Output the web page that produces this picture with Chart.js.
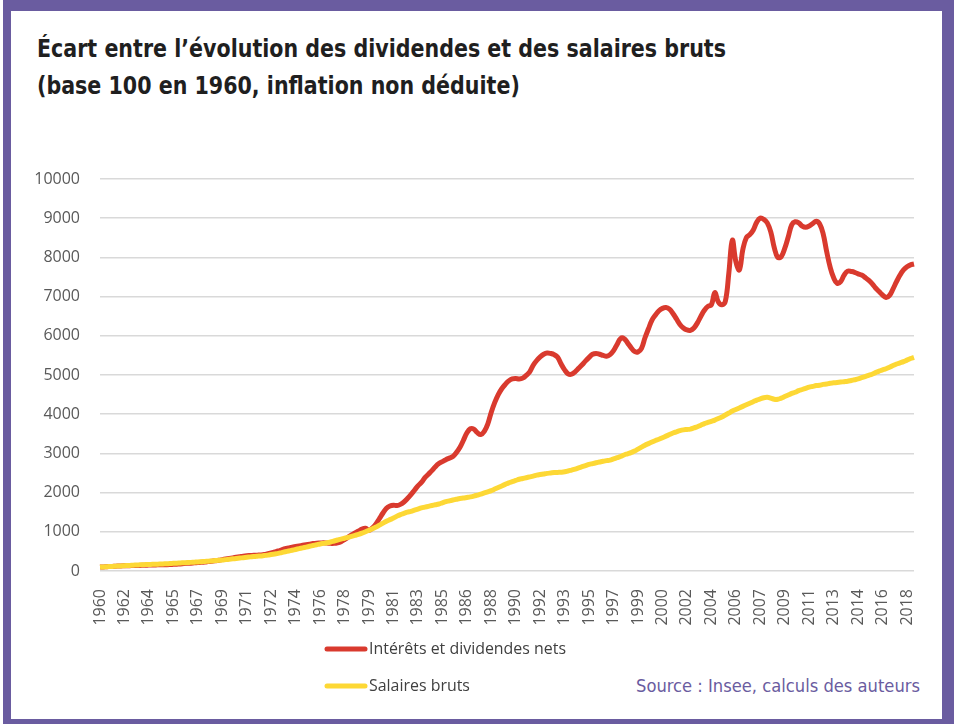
<!DOCTYPE html>
<html lang="fr">
<head>
<meta charset="utf-8">
<script src="https://cdn.jsdelivr.net/npm/chart.js@4.4.1/dist/chart.umd.min.js"></script>
<style>
  html, body { margin: 0; padding: 0; background: #fff; }
  body { width: 954px; height: 724px; position: relative; overflow: hidden; }
  #frame {
    position: absolute; left: 3px; top: 0; width: 951px; height: 724px; box-sizing: border-box;
    border-style: solid; border-color: #6a5ca0;
    border-width: 11px 12px 5px 8px;
  }
  #title {
    position: absolute; left: 37px; top: 31px; transform-origin: left top;
    font-family: "DejaVu Sans Condensed", "Liberation Sans Narrow", Roboto, sans-serif;
    font-weight: bold; font-size: 24px; line-height: 37px; color: #1f1f1f; white-space: nowrap;
  }
  #title div { display: inline-block; }
  #source {
    position: absolute; left: 636px; top: 675px; transform-origin: left top;
    font-family: "DejaVu Sans Condensed", "Liberation Sans Narrow", Roboto, sans-serif;
    font-size: 17px; line-height: 22px; color: #6a5ca0; white-space: nowrap;
  }
  canvas { position: absolute; left: 0; top: 0; }
</style>
</head>
<body>
<div id="frame"></div>
<div id="title"><div id="t1">Écart entre l’évolution des dividendes et des salaires bruts</div><br><div id="t2">(base 100 en 1960, inflation non déduite)</div></div>
<div id="source">Source : Insee, calculs des auteurs</div>
<canvas id="ecartChart" width="954" height="724"></canvas>
<script>
// trimestres de 1960 T3 à 2018 T4, une étiquette tous les 7 trimestres
const firstYear = 1960;
const firstQuarter = 3;
const quarterCount = 234;
const tickEvery = 7;

const quarters = [];
for (let i = 0; i < quarterCount; i++) {
  const q = firstQuarter - 1 + i;
  quarters.push((firstYear + Math.floor(q / 4)) + ' T' + (q % 4 + 1));
}

const seriesNames = ['Intérêts et dividendes nets', 'Salaires bruts'];

const dividendes = [
  100, 105, 110, 115, 120, 125, 130, 132, 135, 138,
  140, 142, 145, 148, 150, 152, 155, 158, 160, 162,
  165, 170, 175, 180, 188, 195, 200, 208, 215, 222,
  230, 240, 250, 262, 275, 290, 305, 320, 335, 350,
  365, 380, 390, 395, 400, 405, 410, 420, 440, 460,
  485, 510, 540, 570, 590, 610, 625, 640, 655, 670,
  685, 700, 710, 715, 720, 712, 705, 705, 720, 750,
  800, 860, 920, 970, 1020, 1070, 1090, 1040, 1100, 1200,
  1340, 1480, 1600, 1660, 1680, 1670, 1700, 1760, 1850, 1950,
  2060, 2170, 2260, 2380, 2470, 2560, 2660, 2740, 2790, 2840,
  2880, 2920, 3020, 3150, 3330, 3520, 3630, 3620, 3530, 3480,
  3560, 3750, 4050, 4300, 4500, 4650, 4760, 4850, 4900, 4910,
  4900, 4920, 4990, 5080, 5250, 5370, 5460, 5530, 5560, 5550,
  5520, 5450, 5280, 5130, 5030, 5020, 5080, 5170, 5260, 5360,
  5450, 5530, 5550, 5530, 5500, 5480, 5520, 5620, 5780, 5930,
  5930, 5820, 5700, 5600, 5590, 5680, 5950, 6180, 6400, 6530,
  6640, 6700, 6720, 6680, 6570, 6430, 6290, 6200, 6150, 6140,
  6200, 6330, 6500, 6650, 6750, 6790, 7100, 6860, 6790, 6880,
  7600, 8440, 7900, 7680, 8200, 8500, 8580, 8700, 8900, 9000,
  8970, 8880, 8650, 8250, 8000, 8020, 8230, 8520, 8830, 8910,
  8880, 8800, 8770, 8800, 8860, 8920, 8850, 8600, 8150, 7750,
  7480, 7340, 7380, 7550, 7650, 7640, 7620, 7580, 7550, 7490,
  7420, 7330, 7220, 7130, 7040, 6980, 7030, 7200, 7380, 7550,
  7680, 7760, 7810, 7830
];

const salaires = [
  100, 105, 110, 115, 120, 125, 130, 135, 140, 145,
  150, 155, 160, 163, 166, 170, 173, 176, 180, 185,
  190, 195, 200, 205, 210, 215, 220, 225, 230, 237,
  244, 251, 258, 265, 272, 280, 290, 300, 310, 320,
  330, 340, 350, 360, 370, 378, 385, 395, 405, 420,
  435, 450, 470, 490, 510, 530, 550, 570, 590, 610,
  630, 650, 670, 690, 705, 720, 740, 765, 790, 815,
  835, 860, 885, 910, 935, 965, 1000, 1040, 1080, 1120,
  1170, 1220, 1270, 1310, 1350, 1400, 1440, 1470, 1500, 1520,
  1550, 1580, 1610, 1630, 1650, 1670, 1690, 1710, 1740, 1770,
  1790, 1810, 1830, 1850, 1860, 1875, 1890, 1910, 1935, 1960,
  1990, 2020, 2050, 2090, 2130, 2170, 2210, 2250, 2280, 2310,
  2340, 2360, 2380, 2400, 2420, 2445, 2460, 2475, 2490, 2500,
  2510, 2515, 2520, 2530, 2550, 2575, 2600, 2630, 2660, 2690,
  2720, 2740, 2760, 2780, 2800, 2815, 2830, 2860, 2890, 2920,
  2960, 2990, 3020, 3060, 3110, 3160, 3210, 3250, 3290, 3330,
  3360, 3400, 3440, 3480, 3520, 3550, 3580, 3600, 3610, 3620,
  3650, 3680, 3720, 3760, 3790, 3820, 3850, 3890, 3930, 3980,
  4030, 4080, 4120, 4160, 4200, 4240, 4280, 4320, 4360, 4390,
  4420, 4430, 4410, 4380, 4380, 4410, 4450, 4490, 4530, 4560,
  4600, 4630, 4660, 4690, 4710, 4730, 4740, 4760, 4770, 4790,
  4800, 4810, 4820, 4830, 4840, 4860, 4880, 4900, 4930, 4960,
  4990, 5020, 5060, 5100, 5130, 5160, 5200, 5240, 5280, 5310,
  5340, 5380, 5420, 5450
];

// ajuste la largeur des textes condensés
function fitWidth(el, ref, target) {
  el.style.transform = 'scaleX(' + (target / ref.getBoundingClientRect().width) + ')';
}
fitWidth(document.getElementById('title'), document.getElementById('t1'), 689);
fitWidth(document.getElementById('source'), document.getElementById('source'), 284);

// légende dessinée sous le graphique, comme dans l'original
const legendLines = {
  id: 'legendLines',
  afterDraw(chart) {
    const ctx = chart.ctx;
    const rows = [649, 686];
    ctx.save();
    ctx.font = '16px "Open Sans", sans-serif';
    ctx.textBaseline = 'middle';
    const squeeze = 197 / ctx.measureText(chart.data.datasets[0].label).width;
    chart.data.datasets.forEach((ds, i) => {
      const y = rows[i];
      ctx.strokeStyle = ds.borderColor;
      ctx.lineWidth = 5;
      ctx.lineCap = 'round';
      ctx.beginPath();
      ctx.moveTo(327, y);
      ctx.lineTo(365, y);
      ctx.stroke();
      ctx.fillStyle = '#404040';
      const w = ctx.measureText(ds.label).width * squeeze;
      ctx.fillText(ds.label, 369, y, w);
    });
    ctx.restore();
  }
};

const ctx = document.getElementById('ecartChart').getContext('2d');
new Chart(ctx, {
  type: 'line',
  data: {
    labels: quarters,
    datasets: [{
      label: seriesNames[0],
      data: dividendes,
      borderColor: '#d93a2e',
      borderWidth: 5,
      pointRadius: 0,
      tension: 0.4,
      fill: false,
      order: 1
    }, {
      label: seriesNames[1],
      data: salaires,
      borderColor: '#fdd835',
      borderWidth: 5,
      pointRadius: 0,
      tension: 0.4,
      fill: false,
      order: 0
    }]
  },
  options: {
    responsive: false,
    animation: false,
    layout: { padding: { left: 0, right: 40, top: 179, bottom: 93 } },
    scales: {
      x: {
        offset: false,
        grid: { display: false },
        border: { display: false },
        afterFit: scale => { scale.height = 60; },
        ticks: {
          autoSkip: false,
          minRotation: 90,
          maxRotation: 90,
          padding: 10,
          color: '#595959',
          font: { family: '"Open Sans", sans-serif', size: 16 },
          callback: function (value, index) {
            return index % tickEvery === 0 ? this.getLabelForValue(value).slice(0, 4) : null;
          }
        }
      },
      y: {
        min: 0,
        max: 10000,
        afterFit: scale => { scale.width = 100; },
        grid: { color: '#d9d9d9', lineWidth: 1.5, drawTicks: false },
        border: { display: false },
        ticks: {
          stepSize: 1000,
          padding: 20,
          color: '#595959',
          font: { family: '"Open Sans", sans-serif', size: 16 },
          callback: value => String(value)
        }
      }
    },
    plugins: {
      legend: { display: false },
      tooltip: { enabled: false }
    }
  },
  plugins: [legendLines]
});
</script>
</body>
</html>
